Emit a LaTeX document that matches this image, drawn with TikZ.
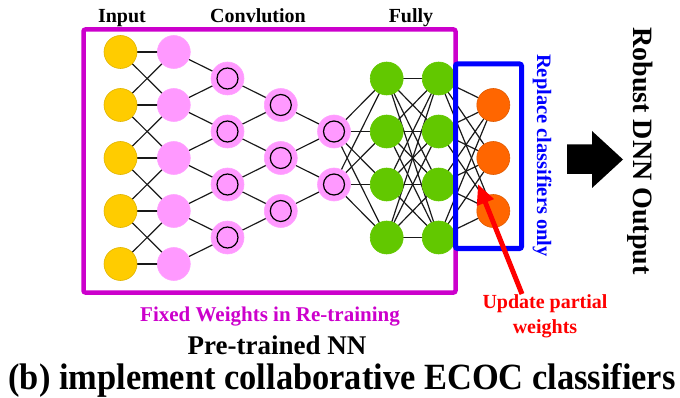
\documentclass[tikz,border=0pt]{standalone}
\usepackage{fontspec}
\setmainfont{Liberation Serif}
\newfontfamily\tightserif[FakeStretch=0.93]{Liberation Serif}
\usetikzlibrary{arrows.meta}
\pgfdeclarelayer{wires}
\pgfsetlayers{wires,main}

\definecolor{inyellow}{HTML}{FFCC00}
\definecolor{convpink}{HTML}{FF99FF}
\definecolor{fcgreen}{HTML}{62C800}
\definecolor{outorange}{HTML}{FF6600}
\definecolor{fixmag}{HTML}{CC00CC}
\definecolor{repblue}{HTML}{0000FF}
\definecolor{upred}{HTML}{FF0000}

\tikzset{
  neuron/.style={circle, minimum size=33pt, inner sep=0pt, line width=0.6pt},
  innode/.style={neuron, fill=inyellow, draw=inyellow!88!black},
  hidnode/.style={neuron, fill=convpink, draw=convpink!90!white},
  convnode/.style={hidnode, path picture={
      \draw[line width=1.2pt, black] (path picture bounding box.center) circle (10.5pt);}},
  fcnode/.style={neuron, fill=fcgreen, draw=fcgreen},
  outnode/.style={neuron, fill=outorange, draw=outorange!88!black},
  wire/.style={line width=1.2pt, black!90},
  layertitle/.style={anchor=base, inner sep=0pt, font={\bfseries\fontsize{20}{24}\selectfont}},
  groupbox/.style={line width=4.5pt, rounded corners=2pt},
}

\begin{document}
\begin{tikzpicture}[x=1pt, y=-1pt]
\useasboundingbox (0,0) rectangle (680,398);

% neurons: rows are spaced 26.5 apart starting at y = 52
\foreach \k [count=\i] in {0,2,4,6,8} {
  \node[innode]  (in\i) at (120.5, {52+26.5*\k}) {};
  \node[hidnode] (p\i)  at (173.8, {52+26.5*\k}) {};
}
\foreach \k [count=\i] in {1,3,5,7} {
  \node[convnode] (c\i) at (227.5, {52+26.5*\k}) {};
  \node[fcnode]   (f\i) at (386.7, {52+26.5*\k}) {};
  \node[fcnode]   (g\i) at (438.7, {52+26.5*\k}) {};
}
\foreach \k [count=\i] in {2,4,6} {
  \node[convnode] (d\i) at (280.8, {52+26.5*\k}) {};
  \node[outnode]  (o\i) at (493.3, {52+26.5*\k}) {};
}
\foreach \k [count=\i] in {3,5} {
  \node[convnode] (e\i) at (334, {52+26.5*\k}) {};
}

% connections, kept underneath the neurons
\begin{pgfonlayer}{wires}
  \foreach \i in {1,...,5} \foreach \j in {1,...,5} {
    \pgfmathtruncatemacro\dd{abs(\i-\j)}
    \ifnum\dd<2 \draw[wire] (in\i.center) -- (p\j.center); \fi
  }
  \foreach \i in {1,...,5} \foreach \j in {1,...,4} {
    \pgfmathtruncatemacro\dd{\i-\j}
    \ifnum\dd>-1 \ifnum\dd<2 \draw[wire] (p\i.center) -- (c\j.center); \fi\fi
  }
  \foreach \i in {1,...,4} \foreach \j in {1,...,3} {
    \pgfmathtruncatemacro\dd{\i-\j}
    \ifnum\dd>-1 \ifnum\dd<2 \draw[wire] (c\i.center) -- (d\j.center); \fi\fi
  }
  \foreach \i in {1,...,3} \foreach \j in {1,2} {
    \pgfmathtruncatemacro\dd{\i-\j}
    \ifnum\dd>-1 \ifnum\dd<2 \draw[wire] (d\i.center) -- (e\j.center); \fi\fi
  }
  \foreach \i in {1,2} \foreach \j in {1,...,4}
    \draw[wire] (e\i.center) -- (f\j.center);
  \foreach \i in {1,...,4} \foreach \j in {1,...,4}
    \draw[wire] (f\i.center) -- (g\j.center);
  \foreach \i in {1,...,4} \foreach \j in {1,2,3}
    \draw[wire] (g\i.center) -- (o\j.center);
\end{pgfonlayer}

% frozen part and replaced classifier
\draw[groupbox, fixmag] (83.5,29.5) rectangle (455.5,292.5);
\draw[groupbox, repblue, line width=5pt] (455.5,64) rectangle (521.5,248.5);

% layer titles
\node[layertitle] (tin)   at (122,23) {Input};
\node[layertitle] (tconv) at (258,23) {Convlution};
\node[layertitle] (tfc)   at (411,23) {Fully};

% captions
\node[anchor=base, inner sep=0pt, text=fixmag, font={\bfseries\fontsize{21}{25}\selectfont}]
  (fixed) at (270,321) {Fixed Weights in Re-training};
\node[anchor=base, inner sep=0pt, font={\bfseries\fontsize{27}{31}\selectfont}]
  (pre) at (277,354) {Pre-trained NN};
\node[anchor=base, inner sep=0pt, font={\tightserif\bfseries\fontsize{37}{41}\selectfont}]
  (title) at (342,389) {(b) implement collaborative ECOC classifiers};

\node[anchor=base, inner sep=0pt, rotate=-90, text=repblue, font={\bfseries\fontsize{20.5}{24}\selectfont}]
  (repl) at (537,155.5) {Replace classifiers only};
\node[anchor=base, inner sep=0pt, rotate=-90, font={\bfseries\fontsize{28}{32}\selectfont}]
  (robust) at (633,151) {Robust DNN Output};

% update note with its pointer into the classifier weights
\node[anchor=north, inner sep=0pt, align=center, text=upred, font={\bfseries\fontsize{20}{25}\selectfont}]
  (upd) at (545,294) {Update partial\\weights};
\coordinate (updtail) at (522,294);
\coordinate (updtip) at (478,184);
\draw[upred, line width=5pt, -{Triangle[length=20pt,width=17pt]}] (updtail) -- (updtip);

% big output arrow
\fill[black] (567,144.5) -- (592,144.5) -- (592,131) -- (623,159.5) -- (592,188) -- (592,174) -- (567,174) -- cycle;
\end{tikzpicture}
\end{document}
